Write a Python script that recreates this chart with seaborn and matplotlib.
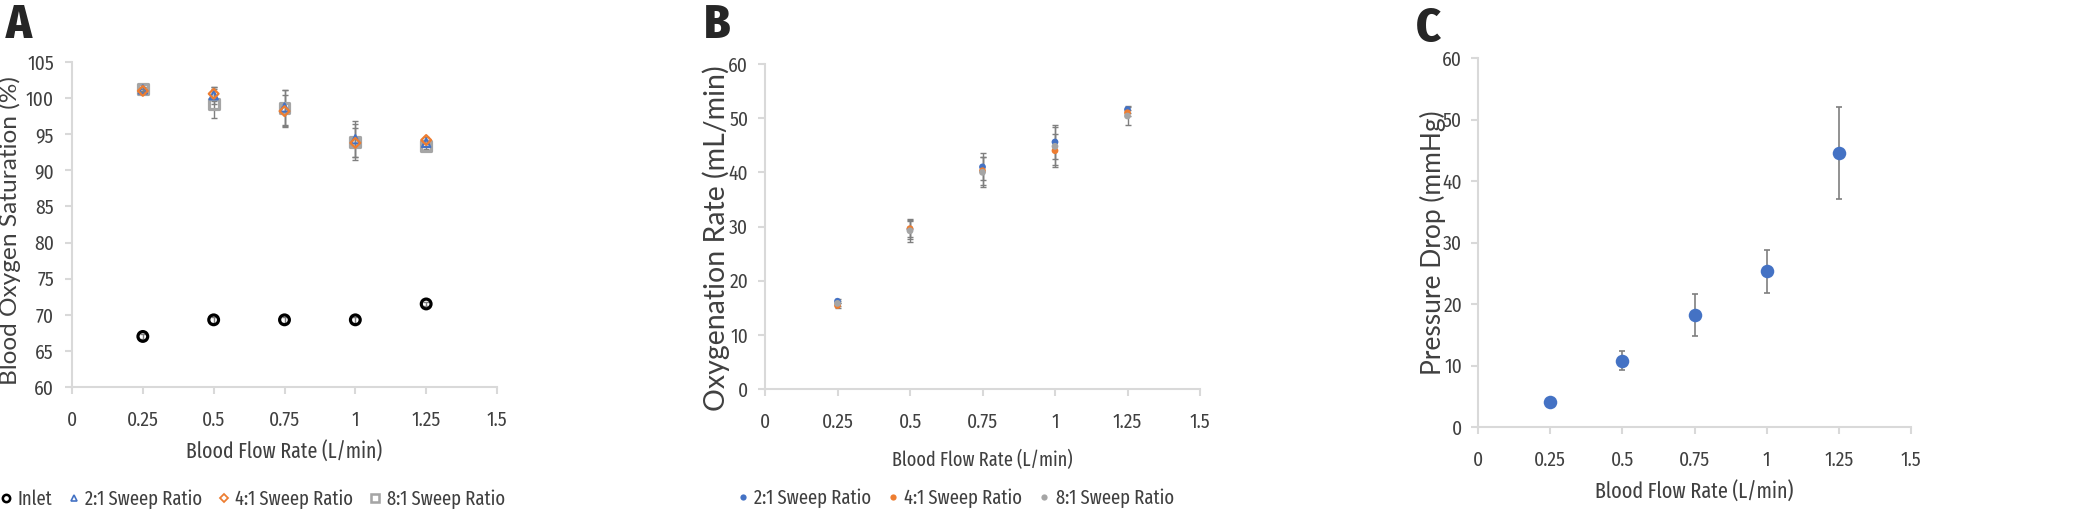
import numpy as np
import pandas as pd
import matplotlib
matplotlib.use("Agg")
import matplotlib.pyplot as plt
import seaborn as sns

sns.set_style("white")
COND = ['Fira Sans Condensed', 'Lato', 'DejaVu Sans']
XCOND = ['Fira Sans Extra Condensed', 'Fira Sans Condensed', 'Lato', 'DejaVu Sans']
plt.rcParams['font.family'] = COND
YLAB_FONT = ['Lato', 'DejaVu Sans']

flow = [0.25, 0.5, 0.75, 1.0, 1.25]

# Panel A: blood oxygen saturation (%)
inlet_sat = [67.0, 69.3, 69.3, 69.3, 71.5]
inlet_err = [0.3, 0.4, 0.4, 0.4, 0.3]
sat_2 = [101.2, 100.4, 98.7, 94.3, 93.8]
sat_4 = [101.0, 100.6, 98.2, 93.8, 94.2]
sat_8 = [101.3, 99.2, 98.6, 93.9, 93.4]
sat_err_2 = [0.3, 1.2, 2.4, 2.5, 0.4]
sat_err_4 = [0.3, 1.0, 2.2, 2.0, 0.4]
sat_err_8 = [0.3, 2.0, 2.5, 2.5, 0.4]

# Panel B: oxygenation rate (mL/min)
oxy_2 = [16.2, 29.5, 41.0, 45.6, 51.6]
oxy_4 = [15.4, 29.6, 40.3, 44.0, 51.0]
oxy_8 = [15.8, 29.2, 40.0, 44.8, 50.4]
oxy_err_2 = [0.4, 1.8, 2.5, 3.2, 0.6]
oxy_err_4 = [0.4, 1.5, 2.6, 3.0, 0.6]
oxy_err_8 = [0.5, 2.0, 2.8, 3.5, 1.6]

# Panel C: pressure drop (mmHg)
dp = [4.0, 10.8, 18.2, 25.3, 44.5]
dp_err = [0.3, 1.6, 3.4, 3.5, 7.5]

series_labels = ["2:1 Sweep Ratio", "4:1 Sweep Ratio", "8:1 Sweep Ratio"]
BLUE, ORANGE, GRAY = "#4472C4", "#ED7D31", "#A5A5A5"
AX_GRAY = "#D9D9D9"
TXT = "#404040"

W, H = 2100, 513
fig = plt.figure(figsize=(W / 100, H / 100), dpi=100)

def style_ax(ax, ylim, yticks, xlabel_size, ylabel, ylabel_size, ylab_x, ylab_y, ypad, xlabel_pad):
    ax.set_xlim(0, 1.5)
    ax.set_ylim(*ylim)
    ax.set_xticks([0, 0.25, 0.5, 0.75, 1, 1.25, 1.5])
    ax.set_xticklabels(["0", "0.25", "0.5", "0.75", "1", "1.25", "1.5"])
    ax.set_yticks(yticks)
    for s in ["top", "right"]:
        ax.spines[s].set_visible(False)
    for s in ["left", "bottom"]:
        ax.spines[s].set_color(AX_GRAY)
        ax.spines[s].set_linewidth(1.5)
    ax.tick_params(axis="both", colors=AX_GRAY, labelcolor=TXT, labelsize=14,
                   length=5, width=1.5, direction="out", bottom=True, left=True)
    ax.tick_params(axis="x", pad=12)
    ax.tick_params(axis="y", pad=ypad)
    ax.set_xlabel("Blood Flow Rate (L/min)", fontsize=xlabel_size, color=TXT,
                  labelpad=xlabel_pad, family=XCOND)
    ax.set_ylabel(ylabel, fontsize=ylabel_size, color=TXT, family=YLAB_FONT)
    ax.yaxis.set_label_coords(ylab_x, ylab_y)
    ax.grid(False)

# ---------------- Panel A ----------------
axA = fig.add_axes([72 / W, 1 - 387 / H, 425 / W, 325 / H])
dfA = pd.DataFrame({"flow": flow * 4,
                    "val": inlet_sat + sat_2 + sat_4 + sat_8,
                    "series": ["Inlet"] * 5 + [series_labels[0]] * 5 + [series_labels[1]] * 5 + [series_labels[2]] * 5})
errsA = {"Inlet": inlet_err, series_labels[0]: sat_err_2, series_labels[1]: sat_err_4, series_labels[2]: sat_err_8}
valsA = {"Inlet": inlet_sat, series_labels[0]: sat_2, series_labels[1]: sat_4, series_labels[2]: sat_8}
stylesA = {"Inlet": ("o", "black", 7, 2.3),
           series_labels[0]: ("^", BLUE, 6, 1.5),
           series_labels[2]: ("s", GRAY, 7, 2.3),
           series_labels[1]: ("D", ORANGE, 5, 1.6)}
handlesA = {}
for name in ["Inlet", series_labels[2], series_labels[0], series_labels[1]]:
    axA.errorbar(flow, valsA[name], yerr=errsA[name], fmt="none", ecolor="#7F7F7F",
                 elinewidth=1, capsize=2.5, capthick=1, zorder=2)
    m, c, sz, lw = stylesA[name]
    sub = dfA[dfA["series"] == name]
    sns.scatterplot(data=sub, x="flow", y="val", ax=axA, marker=m, s=sz ** 2,
                    facecolors="none", edgecolor=c, linewidth=lw, zorder=3, legend=False)
    handlesA[name] = plt.Line2D([], [], linestyle="none", marker=m, markersize=sz * 0.75,
                                markerfacecolor="none", markeredgecolor=c, markeredgewidth=lw * 0.8)
style_ax(axA, (60, 105), range(60, 106, 5), 15.5, "Blood Oxygen Saturation (%)", 17.6,
         -0.12, 0.48, 8, 8)
order = ["Inlet"] + series_labels
legA = fig.legend([handlesA[k] for k in order], order, loc="center left",
                  bbox_to_anchor=(0 / W, 1 - 499 / H),
                  ncol=4, frameon=False, fontsize=14.5, handletextpad=0.3, columnspacing=0.8,
                  handlelength=0.55, borderpad=0, borderaxespad=0, labelcolor=TXT)
for t in legA.get_texts():
    t.set_family(XCOND)

# ---------------- Panel B ----------------
axB = fig.add_axes([765 / W, 1 - 389 / H, 435 / W, 325 / H])
dfB = pd.DataFrame({"flow": flow * 3, "val": oxy_2 + oxy_4 + oxy_8,
                    "series": [series_labels[0]] * 5 + [series_labels[1]] * 5 + [series_labels[2]] * 5})
errsB = {series_labels[0]: oxy_err_2, series_labels[1]: oxy_err_4, series_labels[2]: oxy_err_8}
valsB = {series_labels[0]: oxy_2, series_labels[1]: oxy_4, series_labels[2]: oxy_8}
for name in series_labels:
    axB.errorbar(flow, valsB[name], yerr=errsB[name], fmt="none", ecolor="#7F7F7F",
                 elinewidth=1, capsize=2.5, capthick=1, zorder=2)
sns.scatterplot(data=dfB, x="flow", y="val", hue="series", palette=[BLUE, ORANGE, GRAY],
                ax=axB, s=24, linewidth=0, zorder=3, legend=False)
style_ax(axB, (0, 60), range(0, 61, 10), 14.3, "Oxygenation Rate (mL/min)", 20.5,
         -0.08, 0.465, 7, 13)
handlesB = [plt.Line2D([], [], linestyle="none", marker="o", markersize=4.5, markerfacecolor=c,
                       markeredgecolor="none") for c in [BLUE, ORANGE, GRAY]]
legB = fig.legend(handlesB, series_labels, loc="center left", bbox_to_anchor=(737 / W, 1 - 498 / H),
                  ncol=3, frameon=False, fontsize=14.5, handletextpad=0.3, columnspacing=0.8,
                  handlelength=0.55, borderpad=0, borderaxespad=0, labelcolor=TXT)
for t in legB.get_texts():
    t.set_family(XCOND)

# ---------------- Panel C ----------------
axC = fig.add_axes([1478 / W, 1 - 427 / H, 433 / W, 369 / H])
dfC = pd.DataFrame({"flow": flow, "val": dp})
axC.errorbar(flow, dp, yerr=dp_err, fmt="none", ecolor="#7F7F7F", elinewidth=1.2,
             capsize=2.5, capthick=1.2, zorder=2)
sns.scatterplot(data=dfC, x="flow", y="val", ax=axC, color=BLUE, s=95, linewidth=0, zorder=3)
style_ax(axC, (0, 60), range(0, 61, 10), 15.8, "Pressure Drop (mmHg)", 19,
         -0.075, 0.5, 6.5, 8)

# Panel letters
for x, y, letter in [(6, 3, "A"), (704, 3, "B"), (1416, 6, "C")]:
    fig.text(x / W, 1 - y / H, letter, fontsize=34, fontweight="heavy", va="top", ha="left",
             family=COND)

fig.savefig("out.png", dpi=100, facecolor="white")
